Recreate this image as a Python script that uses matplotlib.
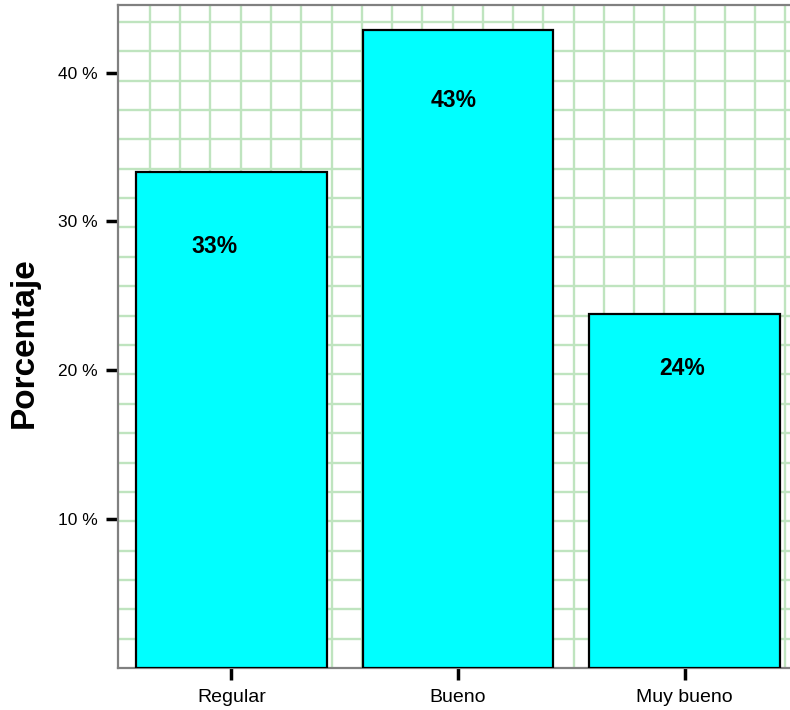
import numpy as np
import matplotlib
matplotlib.use("Agg")
import matplotlib.pyplot as plt

plt.rcParams["font.family"] = ["Liberation Sans", "DejaVu Sans"]

categories = ["Regular", "Bueno", "Muy bueno"]
values = [33.3, 42.9, 23.8]
labels = ["33%", "43%", "24%"]
yticks = [10, 20, 30, 40]

fig = plt.figure(figsize=(7.9, 7.1), dpi=100)
ax = fig.add_axes([118/790, (710-667.5)/710, (798-118)/790, (667.5-5)/710])

x = np.arange(len(categories))
ax.set_xlim(-0.5, 2.5)
ax.set_ylim(0, 44.55)

# background grid (not aligned with ticks, as in reference)
hgrid = np.arange(1, 23) * 1.976 - 0.05
vgrid = -0.359 + np.arange(0, 22) * 0.1335
ax.set_yticks(hgrid, minor=True)
ax.set_xticks(vgrid, minor=True)
ax.tick_params(which="minor", length=0)
ax.grid(which="minor", color="#bfe4bf", linewidth=1.7, zorder=0)
ax.grid(which="major", visible=False)
ax.set_axisbelow(True)

bars = ax.bar(x, values, width=0.84, color="#00ffff", edgecolor="black",
              linewidth=1.6, zorder=3)

# label placement inside bars (layout constants)
dx = [-0.073, -0.02, -0.013]
dy = [5.0, 4.8, 3.7]
for xi, v, lab, ox, oy in zip(x, values, labels, dx, dy):
    ax.text(xi + ox, v - oy, lab, ha="center", va="center",
            fontsize=16.5, fontweight="bold", zorder=4)

ax.set_xticks(x)
ax.set_xticklabels(categories, fontsize=14)
ax.set_yticks(yticks)
ax.set_yticklabels([f"{t} %" for t in yticks], fontsize=12.5)
ax.tick_params(axis="y", which="major", length=8.5, width=2.5, color="black", pad=6)
ax.tick_params(axis="x", which="major", length=8.5, width=2.5, color="black", pad=7)

for s in ax.spines.values():
    s.set_color("#808080")
    s.set_linewidth(1.6)

ax.set_ylabel("Porcentaje", fontsize=24, fontweight="bold")
ax.yaxis.set_label_coords(-0.115, 0.49)

fig.savefig("out.png", dpi=100)
